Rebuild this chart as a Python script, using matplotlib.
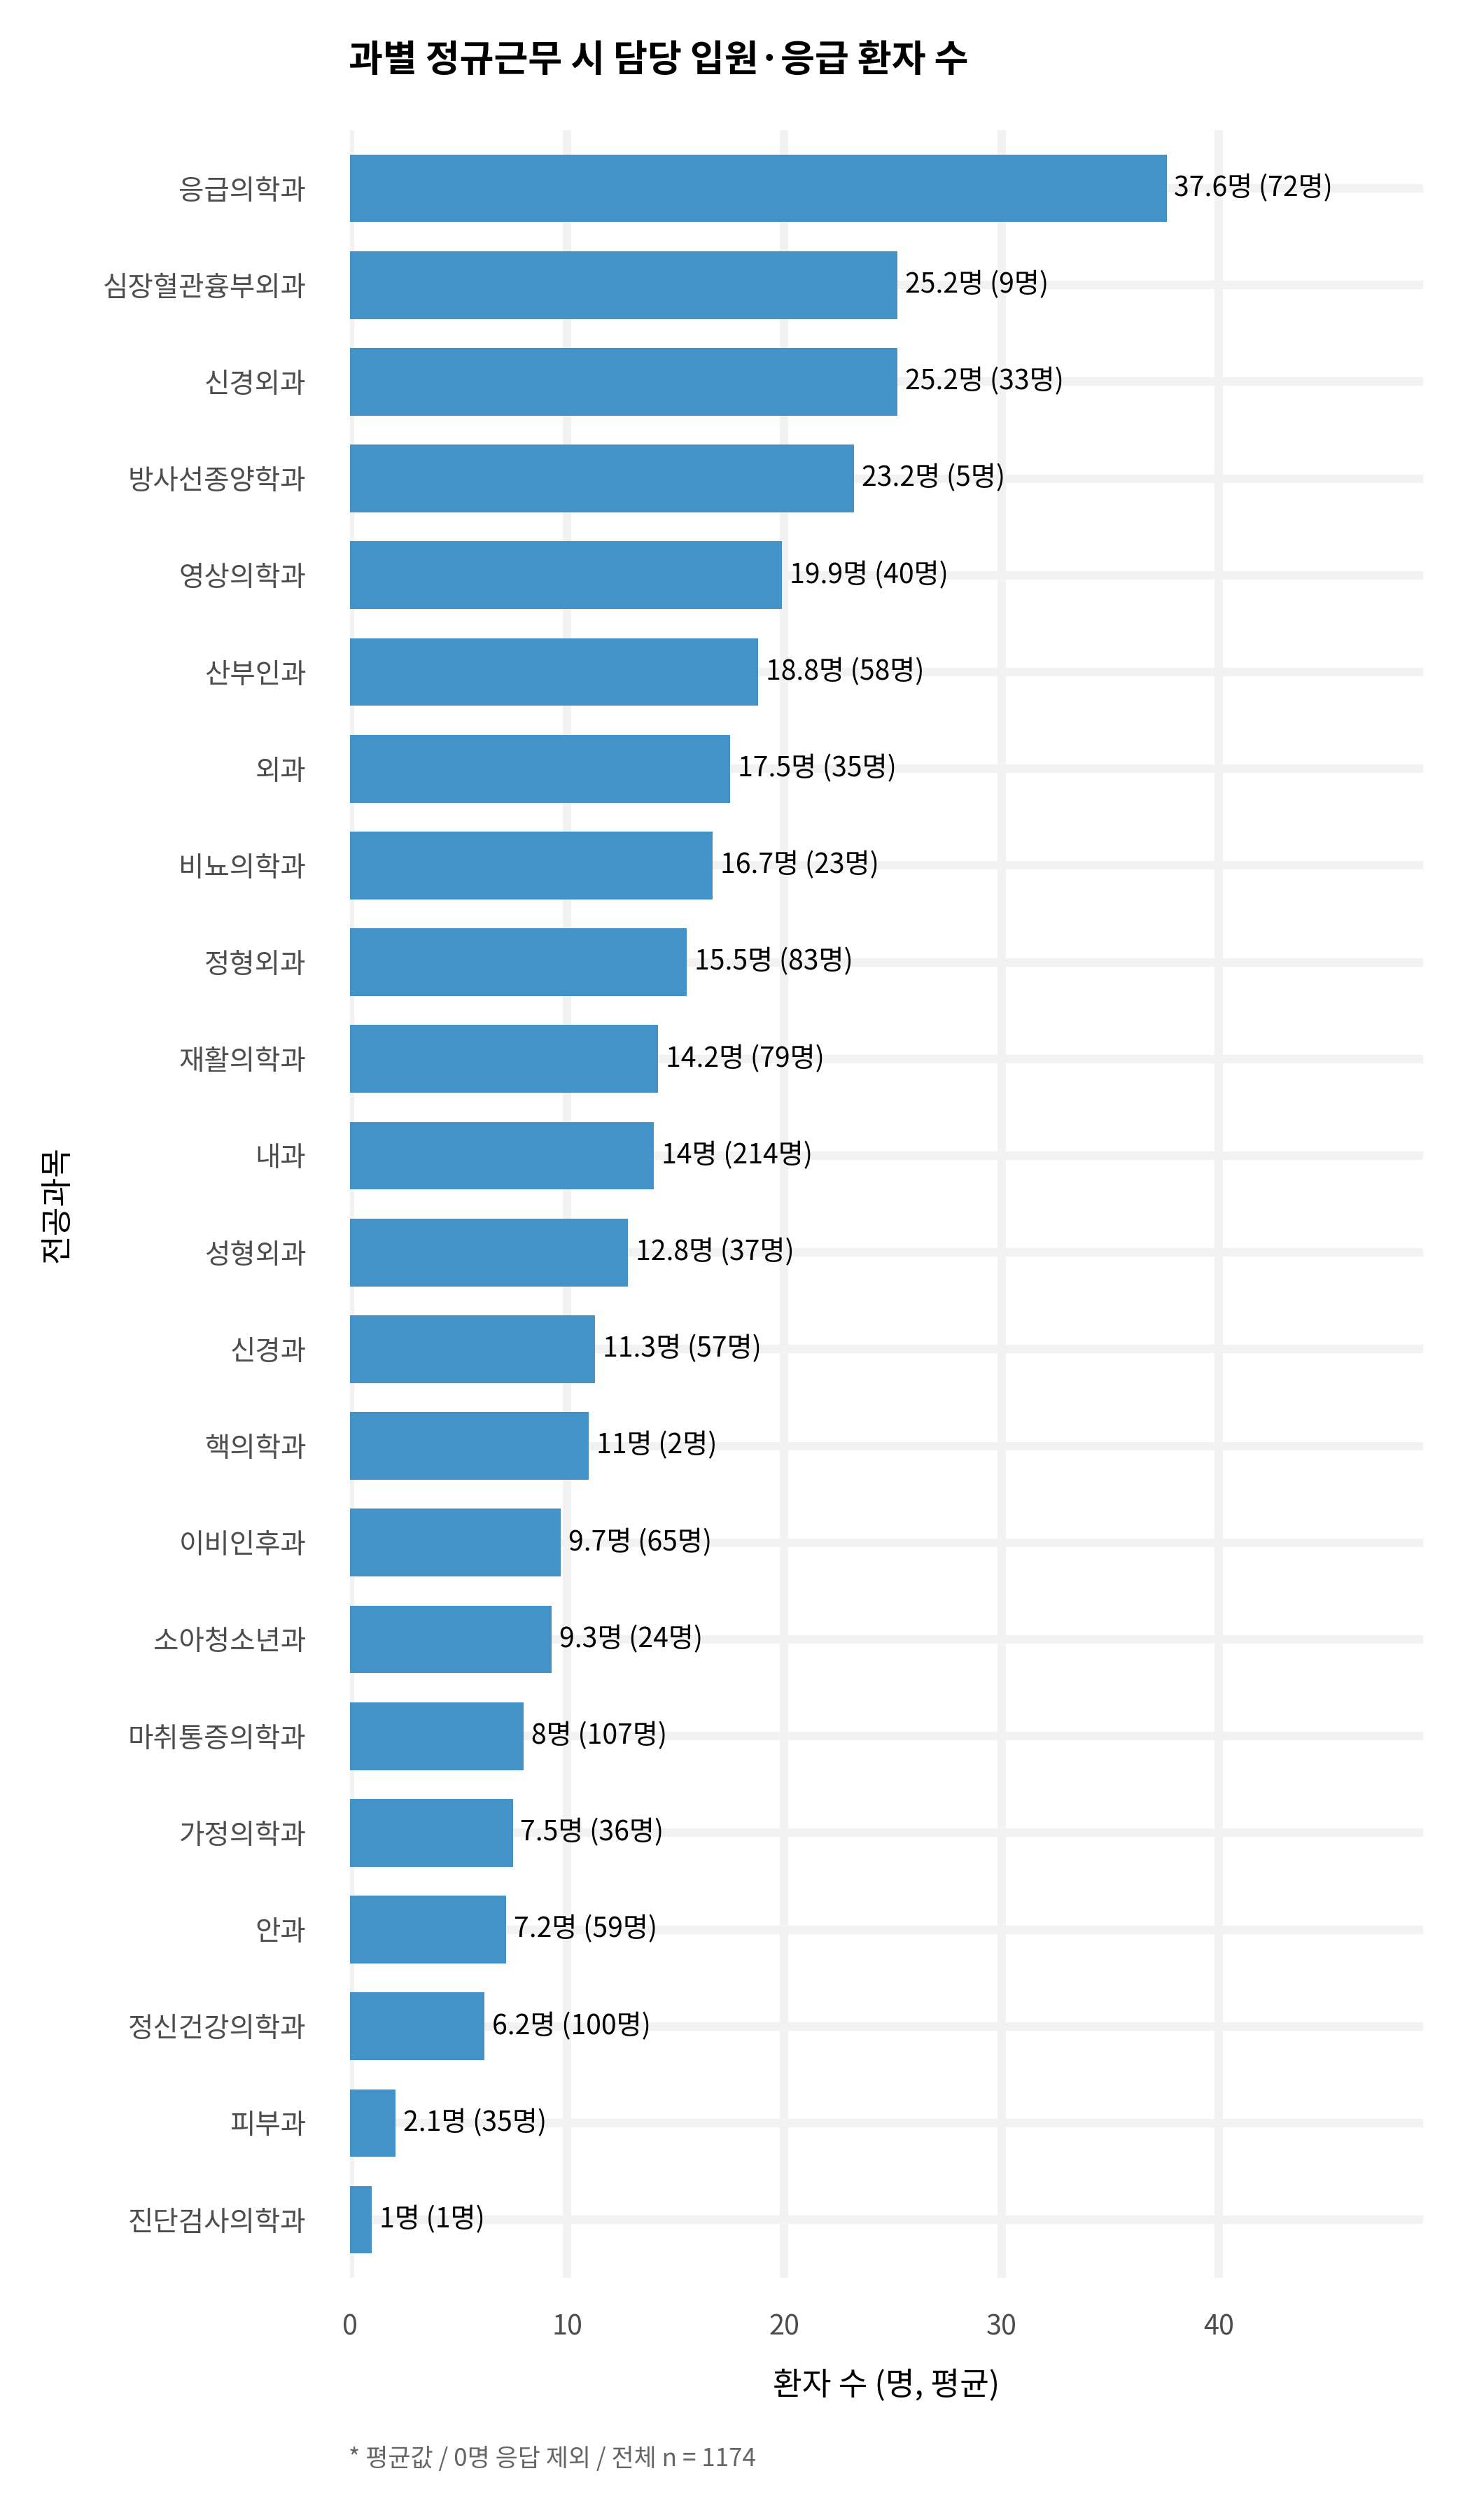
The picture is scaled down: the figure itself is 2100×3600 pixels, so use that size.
import matplotlib
matplotlib.use("Agg")
import matplotlib.pyplot as plt
import numpy as np

plt.rcParams['font.family'] = ['Noto Sans CJK KR', 'DejaVu Sans']

departments = ["응급의학과", "심장혈관흉부외과", "신경외과", "방사선종양학과", "영상의학과",
               "산부인과", "외과", "비뇨의학과", "정형외과", "재활의학과", "내과",
               "성형외과", "신경과", "핵의학과", "이비인후과", "소아청소년과",
               "마취통증의학과", "가정의학과", "안과", "정신건강의학과", "피부과",
               "진단검사의학과"]
mean_patients = [37.6, 25.2, 25.2, 23.2, 19.9, 18.8, 17.5, 16.7, 15.5, 14.2, 14,
                 12.8, 11.3, 11, 9.7, 9.3, 8, 7.5, 7.2, 6.2, 2.1, 1]
respondents = [72, 9, 33, 5, 40, 58, 35, 23, 83, 79, 214, 37, 57, 2, 65, 24,
               107, 36, 59, 100, 35, 1]
x_ticks = [0, 10, 20, 30, 40]

bar_color = "#4393c9"
grid_color = "#f2f2f2"

fig = plt.figure(figsize=(7, 12), dpi=300)
ax = fig.add_axes([0.238, 0.0961, 0.730, 0.8522])

y = np.arange(len(departments))
ax.barh(y, mean_patients, height=0.7, color=bar_color, zorder=2)

for yi, v, n in zip(y, mean_patients, respondents):
    ax.text(v + 0.35, yi, f"{v:g}명 ({n}명)", va="center", ha="left",
            fontsize=9.4, color="black", zorder=3)

ax.set_xlim(0, 49.4)
ax.set_ylim(len(departments) - 1 + 0.6, -0.6)
ax.set_yticks(y)
ax.set_yticklabels(departments)
ax.set_xticks(x_ticks)

ax.grid(True, color=grid_color, linewidth=2.9, zorder=0)
ax.set_axisbelow(True)
for s in ax.spines.values():
    s.set_visible(False)
ax.tick_params(axis="both", length=0, labelsize=9.5, labelcolor="#4d4d4d")
ax.tick_params(axis="y", pad=15)
ax.tick_params(axis="x", pad=12)

ax.set_xlabel("환자 수 (명, 평균)", fontsize=10.9, color="black")
ax.xaxis.set_label_coords(0.5, -0.0502)
ax.xaxis.label.set_va("center")
ax.set_ylabel("전공과목", fontsize=10.9, color="black")
ax.yaxis.set_label_coords(-0.2725, 0.5)
ax.yaxis.label.set_va("center")

fig.text(0.237, 0.976, "과별 정규근무 시 담당 입원·응급 환자 수", fontsize=12.75,
         fontweight="bold", ha="left", va="center")
fig.text(0.237, 0.0242, "* 평균값 / 0명 응답 제외 / 전체 n = 1174", fontsize=8.4,
         color="#666666", ha="left", va="center")

fig.savefig("out.png", dpi=300)
